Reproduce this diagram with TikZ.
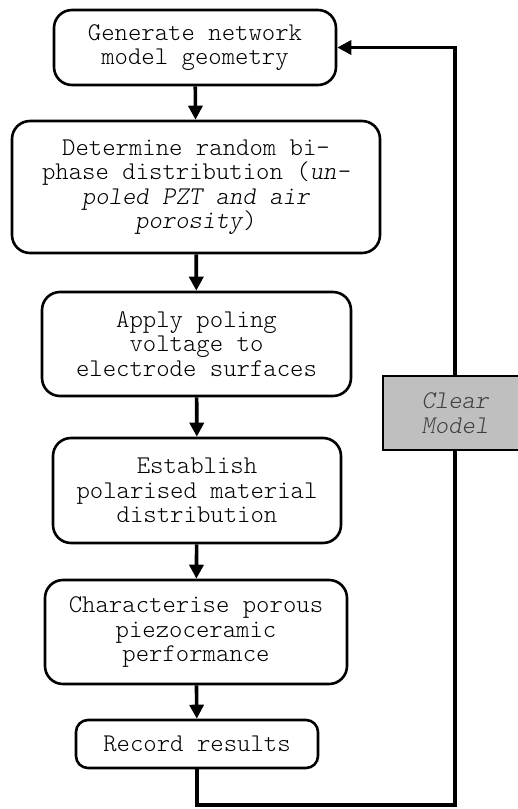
\documentclass[tikz,border=0pt]{standalone}
\usepackage{fontspec}
\setmonofont{lmmonolt10-regular.otf}[ItalicFont=lmmonolt10-oblique.otf]
\usetikzlibrary{arrows.meta}

\begin{document}
\begin{tikzpicture}[x=1pt,y=-1pt,
    stepbox/.style={draw,line width=2.6pt,rounded corners=18pt,align=center,
      inner sep=0pt,font=\ttfamily\fontsize{25.5}{24.5}\selectfont},
    clearbox/.style={draw,line width=2.6pt,fill=black!25,align=center,
      inner sep=0pt,text=black!75,font=\ttfamily\itshape\fontsize{25.5}{24.5}\selectfont},
    flow/.style={line width=3.6pt,-{Triangle[length=14pt,width=14pt]}}]
      \useasboundingbox (0,0) rectangle (518,809);
      \clip (0,0) rectangle (518,809);

      %%%%  steps
      \node[stepbox,minimum width=282,minimum height=75] (gen) at (195,47.5)
        {Generate network\\model geometry};
      \node[stepbox,minimum width=368,minimum height=132] (rand) at (196,187)
        {Determine random bi-\\phase distribution (\textit{un-}\\\textit{poled PZT and air}\\\textit{porosity})};
      \node[stepbox,minimum width=309,minimum height=104] (pole) at (196.5,344)
        {Apply poling\\voltage to\\electrode surfaces};
      \node[stepbox,minimum width=288,minimum height=105] (polar) at (197,490.5)
        {Establish\\polarised material\\distribution};
      \node[stepbox,minimum width=302,minimum height=104] (char) at (196,632)
        {Characterise porous\\piezoceramic\\performance};
      \node[stepbox,rounded corners=12pt,minimum width=242,minimum height=48] (rec) at (197,744)
        {Record results};

      \foreach \a/\b in {gen/rand,rand/pole,pole/polar,polar/char,char/rec}
       {\draw[flow] (\a) -- (\b);};

      %%%%  loop back
      \coordinate (low) at (455,805);
      \node[clearbox,minimum width=144,minimum height=74] (clear) at (455,413)
        {Clear\\Model};
      \draw[line width=3.6pt] (rec.south) |- (low) -- (clear.south);
      \draw[flow] (clear.north) |- (gen.east);
    \end{tikzpicture}
\end{document}
